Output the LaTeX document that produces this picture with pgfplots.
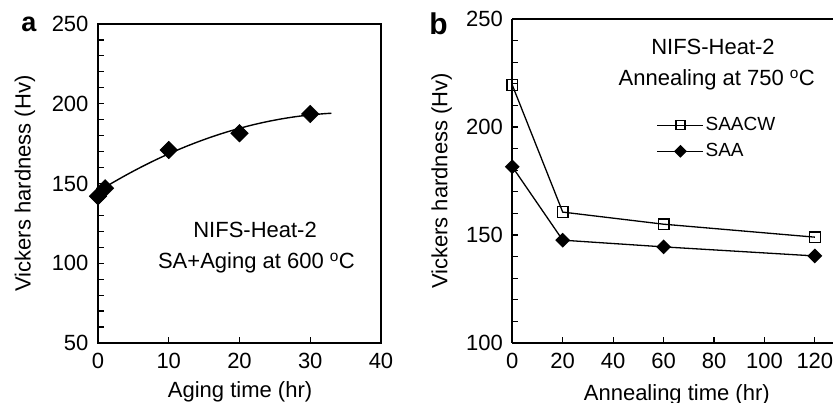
\documentclass[border=0pt]{standalone}
\usepackage{pgfplots}
\pgfplotsset{compat=1.18}
\usepackage{fontspec}
\setmainfont{Liberation Sans}
\begin{document}
\fontsize{22}{26}\selectfont
\begin{tikzpicture}
\pgfplotsset{
  every axis/.append style={
    scale only axis,
    font=\fontsize{22}{26}\selectfont,
    /pgf/number format/assume math mode=true,
    tick align=inside,
    major tick length=5.5pt, minor tick length=5.5pt,
    axis line style={line width=2.2pt},
    every tick/.style={black, line width=1.2pt},
    ytick pos=left,
    xtick pos=left,
    xticklabel style={yshift=-3pt},
    yticklabel style={xshift=-2pt},
  }
}
% ---------------- panel a
\begin{axis}[
  at={(98pt,60pt)}, anchor=south west,
  width=283pt, height=319pt,
  xmin=0, xmax=40, ymin=50, ymax=250,
  xtick={0,10,...,40}, ytick={50,100,...,250},
  minor y tick num=4,
  xlabel={Aging time (hr)},
  ylabel={Vickers hardness (Hv)},
  xlabel style={at={(axis description cs:0.502,-0.171)}, anchor=base},
  ylabel style={at={(axis description cs:-0.258,0.5)}, anchor=center},
]
\addplot[black, line width=1.4pt, smooth] coordinates {
(0,145) (2,150.33) (4,155.35) (6,160.07) (8,164.49) (10,168.6) (12,172.41)
(14,175.91) (16,179.11) (18,182.01) (20,184.6) (22,186.89) (24,188.87)
(26,190.55) (28,191.93) (30,193.0) (32,193.77) (33,194.04)};
\addplot[only marks, mark=square*, mark size=6.2pt, mark options={rotate=45, fill=black, draw=black}] coordinates {
(0,142) (1,147) (10,171) (20,181.5) (30,193.6)};
\node at (axis cs:22.2,121) {NIFS-Heat-2};
\node at (axis cs:22.4,100) {SA+Aging at 600~\textsuperscript{o}C};
\end{axis}
% ---------------- panel b
\begin{axis}[
  at={(512.3pt,60pt)}, anchor=south west,
  width=320.7pt, height=324pt,
  axis x line*=box, axis y line*=left,
  xtick pos=left, ytick pos=left,
  xmin=0, xmax=127.2, ymin=100, ymax=250,
  xtick={0,20,...,120}, ytick={100,150,200,250},
  minor y tick num=4,
  xlabel={Annealing time (hr)},
  ylabel={Vickers hardness (Hv)},
  xlabel style={at={(axis description cs:0.513,-0.179)}, anchor=base},
  ylabel style={at={(axis description cs:-0.22,0.5)}, anchor=center},
  legend style={at={(rel axis cs:0.45,0.703)}, anchor=north west, draw=none, fill=none,
    font=\fontsize{19}{22}\selectfont, inner sep=0pt, row sep=6.5pt,
    nodes={inner sep=1.5pt}},
  legend cell align=left,
  legend image code/.code={\draw[mark repeat=2,mark phase=2,#1, every mark/.append style={scale=0.85}] plot coordinates {(0pt,0pt)(23pt,0pt)(46pt,0pt)};},
]
\addplot[black, line width=1.3pt, mark=square, mark size=5.3pt, mark options={fill=white, line width=1.3pt}] coordinates {
(0,219.4) (20,160.6) (60,155) (120,149)};
\addlegendentry{SAACW}
\addplot[black, line width=1.3pt, mark=square*, mark size=4.6pt, mark options={rotate=45, fill=black}] coordinates {
(0,181.6) (20,147.6) (60,144.5) (120,140.3)};
\addlegendentry{SAA}
\node at (axis cs:79.6,237.2) {NIFS-Heat-2};
\node at (axis cs:81.1,221.7) {Annealing at 750~\textsuperscript{o}C};
\end{axis}
\node[font=\bfseries\fontsize{27}{30}\selectfont] at (29pt,378.5pt) {a};
\node[font=\bfseries\fontsize{30}{34}\selectfont] at (438.5pt,379pt) {b};
\pgfresetboundingbox
\useasboundingbox (0pt,0pt) rectangle (833pt,403pt);
\end{tikzpicture}
\end{document}
